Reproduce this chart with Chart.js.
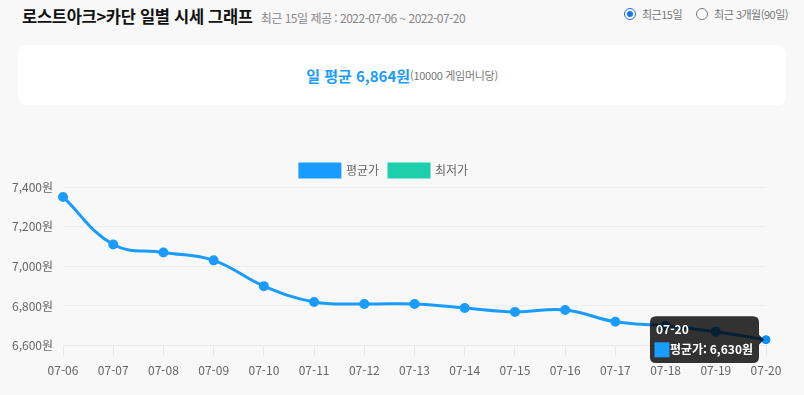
<!DOCTYPE html>
<html lang="ko">
<head>
<meta charset="utf-8">
<script src="https://cdn.jsdelivr.net/npm/chart.js@4/dist/chart.umd.min.js"></script>
<style>
  html, body { margin:0; padding:0; background:#f8f8f8; width:804px; height:395px; overflow:hidden;
    font-family:"Noto Sans CJK KR","Noto Sans",sans-serif; }
  #title { position:absolute; left:22px; top:4px; font-size:16.5px; font-weight:bold; color:#111; letter-spacing:-0.3px; }
  #title span { font-size:12px; font-weight:normal; color:#888; margin-left:8px; letter-spacing:-0.5px; }
  #radios { position:absolute; right:16px; top:6px; font-size:11px; color:#777; letter-spacing:-0.5px; }
  #radios label { margin-left:14px; display:inline-flex; align-items:center; }
  .r { display:inline-block; width:12px; height:12px; border:1px solid #777; border-radius:50%; margin-right:6px; box-sizing:border-box; background:#fff; }
  .r.on { border-color:#1a73e8; position:relative; }
  .r.on::after { content:""; position:absolute; left:2px; top:2px; width:6px; height:6px; border-radius:50%; background:#1a73e8; }
  #box { position:absolute; left:18px; top:45px; width:768px; height:60px; background:#fff; border-radius:8px;
    display:flex; align-items:center; justify-content:center; }
  #box b { color:#1a9cff; font-size:15px; }
  #box small { color:#777; font-size:11px; letter-spacing:-0.3px; }
  #wrap { position:absolute; left:0; top:154px; width:804px; height:241px; }
</style>
</head>
<body>
<div id="title">로스트아크&gt;카단 일별 시세 그래프<span>최근 15일 제공 : 2022-07-06 ~ 2022-07-20</span></div>
<div id="radios"><label><span class="r on"></span>최근15일</label><label><span class="r"></span>최근 3개월(90일)</label></div>
<div id="box"><b>일 평균 6,864원</b><small>(10000 게임머니당)</small></div>
<div id="wrap"><canvas id="c"></canvas></div>
<script>
const categories = ["07-06","07-07","07-08","07-09","07-10","07-11","07-12","07-13","07-14","07-15","07-16","07-17","07-18","07-19","07-20"];
const avgPrice = [7350,7110,7070,7030,6900,6820,6810,6810,6790,6770,6780,6720,6700,6670,6630];
const minPrice = [];
const yTicks = [6600,6800,7000,7200,7400];

const fmt = v => v.toLocaleString('en-US') + '원';
Chart.defaults.font.family = '"Noto Sans CJK KR","Noto Sans",sans-serif';
Chart.defaults.color = '#666';

const chart = new Chart(document.getElementById('c'), {
  type: 'line',
  data: {
    labels: categories,
    datasets: [
      { label:'평균가', data: avgPrice, borderColor:'#1a9cff', backgroundColor:'#1a9cff',
        borderWidth:3, tension:0.4, pointRadius:3.5, pointHoverRadius:4, fill:false },
      { label:'최저가', data: minPrice, borderColor:'#1ecfab', backgroundColor:'#1ecfab',
        borderWidth:3, tension:0.4, pointRadius:3.5, fill:false }
    ]
  },
  options: {
    responsive:true, maintainAspectRatio:false, animation:false,
    layout:{ padding:{ left:2, right:38, top:0, bottom:9 } },
    interaction:{ mode:'index', intersect:false },
    plugins:{
      legend:{ labels:{ boxWidth:40, boxHeight:13, font:{ size:12 }, color:'#666', padding:10 } },
      tooltip:{
        backgroundColor:'rgba(0,0,0,0.8)', titleFont:{ size:12, weight:'bold' }, bodyFont:{ size:12, weight:'bold' },
        padding:6, cornerRadius:6, caretSize:5,
        callbacks:{ label: ctx => ctx.dataset.label + ': ' + fmt(ctx.parsed.y) }
      }
    },
    scales:{
      x:{ grid:{ drawOnChartArea:false, drawTicks:true, tickLength:10, color:'#e8e8e8' },
          border:{ color:'#e8e8e8' },
          ticks:{ font:{ size:12 }, color:'#666', padding:8, maxRotation:0, autoSkip:false } },
      y:{ min:yTicks[0], max:yTicks[yTicks.length-1],
          afterBuildTicks: ax => { ax.ticks = yTicks.map(v => ({ value:v })); },
          grid:{ color:'#eeeeee', drawTicks:false }, border:{ display:false },
          ticks:{ font:{ size:12 }, color:'#666', padding:10, callback: v => fmt(v) } }
    }
  }
});
const last = categories.length - 1;
const pt = chart.getDatasetMeta(0).data[last];
chart.setActiveElements([{ datasetIndex:0, index:last }]);
chart.tooltip.setActiveElements([{ datasetIndex:0, index:last }], { x: pt.x, y: pt.y });
chart.update();
</script>
</body>
</html>
